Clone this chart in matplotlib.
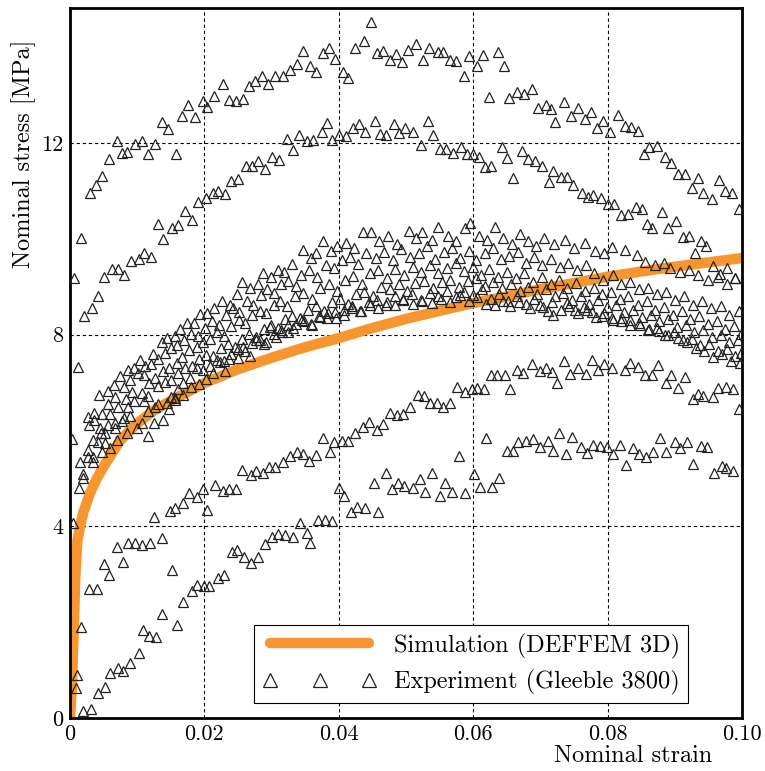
import matplotlib
matplotlib.use("Agg")
import matplotlib.pyplot as plt

plt.rcParams['font.family'] = 'serif'
plt.rcParams['font.serif'] = ['cmr10']
plt.rcParams['mathtext.fontset'] = 'cm'
plt.rcParams['axes.formatter.use_mathtext'] = True

# simulation curve (DEFFEM 3D)
sim_strain = [0.0, 0.0003, 0.0005, 0.0008, 0.0011, 0.0015, 0.002, 0.003, 0.004, 0.005, 0.0075,
              0.010, 0.0125, 0.015, 0.020, 0.025, 0.030, 0.035, 0.040, 0.045, 0.050,
              0.055, 0.060, 0.065, 0.070, 0.075, 0.080, 0.085, 0.090, 0.095, 0.100]
sim_stress = [0.0, 0.7, 1.6, 3.0, 3.7, 4.0, 4.3, 4.7, 5.0, 5.25, 5.8,
              6.15, 6.42, 6.62, 6.99, 7.28, 7.52, 7.74, 7.93, 8.14, 8.33,
              8.50, 8.66, 8.80, 8.95, 9.08, 9.21, 9.32, 9.42, 9.51, 9.60]

# experiment (Gleeble 3800), one list of (strain, stress) per test
exp_a = [(0.0006, 9.19), (0.0016, 10.02), (0.0030, 10.96), (0.0039, 11.13), (0.0048, 11.32), (0.0058, 11.67),
         (0.0070, 12.05), (0.0077, 11.80), (0.0085, 11.82), (0.0097, 11.98), (0.0107, 12.05), (0.0116, 11.77),
         (0.0126, 11.98), (0.0137, 12.44), (0.0146, 12.30), (0.0158, 11.77), (0.0167, 12.57), (0.0176, 12.80),
         (0.0186, 12.55), (0.0198, 12.88), (0.0204, 12.76), (0.0214, 12.99), (0.0228, 13.24), (0.0237, 12.90),
         (0.0247, 12.88), (0.0257, 12.92), (0.0266, 13.19), (0.0275, 13.30), (0.0286, 13.40), (0.0295, 13.24),
         (0.0305, 13.40), (0.0317, 13.40), (0.0327, 13.53), (0.0338, 13.65), (0.0347, 13.92), (0.0357, 13.61),
         (0.0366, 13.49), (0.0377, 13.88), (0.0385, 13.99), (0.0394, 13.76), (0.0406, 13.49), (0.0414, 13.36),
         (0.0424, 13.99), (0.0438, 14.13), (0.0448, 14.53), (0.0457, 13.88), (0.0466, 13.92), (0.0476, 13.74),
         (0.0485, 13.86), (0.0494, 13.70), (0.0503, 13.95), (0.0515, 14.07), (0.0525, 13.74), (0.0534, 13.99),
         (0.0548, 13.90), (0.0555, 13.90), (0.0565, 13.74), (0.0574, 13.72), (0.0586, 13.40), (0.0594, 13.82),
         (0.0606, 13.61), (0.0615, 13.84), (0.0624, 12.97), (0.0637, 13.90), (0.0646, 13.61), (0.0653, 12.94),
         (0.0665, 13.07), (0.0676, 13.03), (0.0687, 13.13), (0.0697, 12.73), (0.0708, 12.80), (0.0716, 12.71),
         (0.0722, 12.44), (0.0735, 12.86), (0.0746, 12.57), (0.0756, 12.73), (0.0766, 12.50), (0.0775, 12.65),
         (0.0784, 12.32), (0.0793, 12.46), (0.0804, 12.23), (0.0816, 12.59), (0.0826, 12.36), (0.0835, 12.34),
         (0.0845, 12.25), (0.0854, 11.77), (0.0862, 11.92), (0.0874, 11.94), (0.0885, 11.71), (0.0894, 11.59),
         (0.0905, 11.36), (0.0915, 11.36), (0.0925, 11.07), (0.0935, 11.27), (0.0942, 10.96), (0.0955, 10.83),
         (0.0966, 11.23), (0.0975, 11.00), (0.0985, 10.96), (0.0996, 10.63)]

exp_b = [(0.0012, 7.33), (0.0021, 8.39), (0.0033, 8.56), (0.0042, 8.81), (0.0051, 9.21), (0.0063, 9.37),
         (0.0071, 9.37), (0.0080, 9.25), (0.0091, 9.54), (0.0103, 9.58), (0.0110, 9.71), (0.0120, 9.62),
         (0.0131, 10.31), (0.0138, 10.00), (0.0152, 10.23), (0.0161, 10.29), (0.0171, 10.58), (0.0182, 10.40),
         (0.0191, 10.77), (0.0202, 10.86), (0.0213, 10.96), (0.0220, 11.00), (0.0231, 10.94), (0.0240, 11.21),
         (0.0250, 11.25), (0.0262, 11.52), (0.0271, 11.52), (0.0280, 11.63), (0.0290, 11.46), (0.0300, 11.71),
         (0.0311, 11.65), (0.0323, 12.09), (0.0332, 11.86), (0.0341, 12.17), (0.0353, 12.05), (0.0362, 12.07),
         (0.0375, 12.23), (0.0382, 12.42), (0.0390, 12.07), (0.0400, 12.17), (0.0411, 12.15), (0.0421, 12.32),
         (0.0430, 12.40), (0.0439, 12.23), (0.0454, 12.46), (0.0461, 12.19), (0.0470, 12.17), (0.0482, 12.40),
         (0.0490, 12.21), (0.0498, 12.32), (0.0510, 12.23), (0.0522, 11.96), (0.0532, 12.46), (0.0540, 12.17),
         (0.0551, 11.88), (0.0560, 11.88), (0.0570, 11.80), (0.0582, 11.92), (0.0590, 11.77), (0.0599, 11.77),
         (0.0609, 11.71), (0.0618, 11.50), (0.0626, 11.52), (0.0643, 11.92), (0.0650, 11.69), (0.0659, 11.27),
         (0.0673, 11.84), (0.0682, 11.67), (0.0692, 11.63), (0.0702, 11.52), (0.0713, 11.19), (0.0719, 11.42),
         (0.0731, 11.29), (0.0740, 11.29), (0.0749, 11.13), (0.0762, 10.96), (0.0771, 10.88), (0.0778, 10.92),
         (0.0790, 10.86), (0.0801, 10.73), (0.0810, 10.73), (0.0820, 10.50), (0.0830, 10.52), (0.0842, 10.67),
         (0.0851, 10.63), (0.0859, 10.31), (0.0866, 10.23), (0.0881, 10.56), (0.0890, 10.23), (0.0902, 10.38),
         (0.0912, 10.04), (0.0921, 10.06), (0.0930, 9.71), (0.0939, 9.96), (0.0946, 9.85), (0.0957, 9.44),
         (0.0967, 9.27), (0.0977, 9.39), (0.0990, 9.19)]

exp_c1 = [(0.0027, 6.28), (0.0036, 6.37), (0.0043, 6.74), (0.0056, 6.83), (0.0066, 6.95), (0.0074, 7.14),
          (0.0086, 7.26), (0.0095, 7.31), (0.0104, 7.47), (0.0112, 7.35), (0.0124, 7.60), (0.0137, 7.85),
          (0.0144, 7.93), (0.0156, 7.97), (0.0164, 8.12), (0.0174, 8.25), (0.0184, 8.25), (0.0193, 8.43),
          (0.0204, 8.46), (0.0214, 8.55), (0.0226, 8.70), (0.0238, 8.62), (0.0248, 8.85), (0.0256, 9.10),
          (0.0268, 8.98), (0.0279, 9.05), (0.0287, 9.29), (0.0299, 9.20), (0.0309, 9.35), (0.0318, 9.30),
          (0.0330, 9.48), (0.0347, 9.77), (0.0358, 9.60), (0.0366, 9.70), (0.0377, 9.96), (0.0389, 9.75),
          (0.0398, 9.85), (0.0410, 9.92), (0.0423, 9.80), (0.0436, 10.15), (0.0448, 10.15), (0.0460, 9.95),
          (0.0473, 10.05), (0.0487, 9.90), (0.0504, 10.17), (0.0515, 10.02), (0.0524, 10.15), (0.0538, 9.98),
          (0.0548, 10.25), (0.0562, 10.05), (0.0575, 9.95), (0.0588, 10.23), (0.0595, 10.33), (0.0608, 10.05),
          (0.0620, 9.98), (0.0632, 10.25), (0.0645, 10.02), (0.0657, 9.90), (0.0669, 10.10), (0.0682, 9.95),
          (0.0694, 9.85), (0.0706, 10.02), (0.0720, 9.90), (0.0737, 9.98), (0.0750, 9.80), (0.0766, 9.91),
          (0.0781, 9.75), (0.0795, 9.70), (0.0806, 9.83), (0.0826, 9.77), (0.0844, 9.67), (0.0856, 9.52),
          (0.0870, 9.45), (0.0884, 9.50), (0.0893, 9.39), (0.0907, 9.30), (0.0921, 9.35), (0.0935, 9.25),
          (0.0950, 9.14), (0.0964, 9.20), (0.0978, 9.05), (0.0990, 9.19)]

exp_c2 = [(0.0028, 6.12), (0.0036, 6.22), (0.0047, 6.35), (0.0057, 6.55), (0.0067, 6.70), (0.0080, 6.90),
          (0.0090, 7.05), (0.0101, 7.20), (0.0110, 7.15), (0.0120, 7.38), (0.0131, 7.50), (0.0141, 7.62),
          (0.0150, 7.72), (0.0159, 7.79), (0.0170, 7.90), (0.0180, 8.02), (0.0190, 7.98), (0.0201, 8.15),
          (0.0211, 8.28), (0.0222, 8.20), (0.0232, 8.42), (0.0243, 8.55), (0.0252, 8.48), (0.0263, 8.70),
          (0.0273, 8.62), (0.0284, 8.82), (0.0293, 8.95), (0.0304, 8.88), (0.0314, 9.05), (0.0325, 9.12),
          (0.0336, 9.02), (0.0344, 9.25), (0.0355, 9.35), (0.0368, 9.20), (0.0381, 9.45), (0.0393, 9.40),
          (0.0405, 9.55), (0.0417, 9.62), (0.0429, 9.48), (0.0441, 9.70), (0.0455, 9.60), (0.0467, 9.72),
          (0.0480, 9.55), (0.0492, 9.78), (0.0506, 9.62), (0.0519, 9.70), (0.0531, 9.85), (0.0543, 9.58),
          (0.0556, 9.72), (0.0569, 9.80), (0.0581, 9.60), (0.0593, 9.75), (0.0604, 9.55), (0.0617, 9.70),
          (0.0629, 9.82), (0.0641, 9.58), (0.0653, 9.65), (0.0666, 9.72), (0.0678, 9.50), (0.0690, 9.62),
          (0.0703, 9.45), (0.0716, 9.58), (0.0729, 9.42), (0.0741, 9.50), (0.0754, 9.35), (0.0768, 9.45),
          (0.0780, 9.28), (0.0793, 9.15), (0.0808, 9.25), (0.0820, 9.05), (0.0833, 9.10), (0.0847, 8.95),
          (0.0860, 8.98), (0.0873, 8.85), (0.0887, 8.90), (0.0900, 8.72), (0.0913, 8.80), (0.0927, 8.62),
          (0.0940, 8.70), (0.0954, 8.55), (0.0968, 8.60), (0.0981, 8.42), (0.0995, 8.50)]

exp_c3 = [(0.0015, 5.34), (0.0027, 5.60), (0.0034, 5.80), (0.0045, 6.05), (0.0052, 5.95), (0.0060, 6.35),
          (0.0072, 6.50), (0.0083, 6.65), (0.0092, 6.80), (0.0107, 6.78), (0.0117, 7.00), (0.0127, 7.10),
          (0.0138, 7.25), (0.0147, 7.31), (0.0159, 7.41), (0.0167, 7.54), (0.0177, 7.68), (0.0189, 7.75),
          (0.0198, 7.85), (0.0208, 7.92), (0.0219, 8.05), (0.0229, 7.98), (0.0240, 8.18), (0.0251, 8.30),
          (0.0261, 8.25), (0.0271, 8.42), (0.0282, 8.50), (0.0292, 8.45), (0.0303, 8.62), (0.0313, 8.70),
          (0.0323, 8.60), (0.0335, 8.80), (0.0347, 8.88), (0.0360, 8.75), (0.0372, 8.98), (0.0385, 9.05),
          (0.0397, 8.92), (0.0409, 9.15), (0.0421, 9.22), (0.0434, 9.05), (0.0446, 9.28), (0.0459, 9.35),
          (0.0471, 9.18), (0.0484, 9.38), (0.0497, 9.25), (0.0510, 9.42), (0.0522, 9.30), (0.0535, 9.45),
          (0.0548, 9.28), (0.0561, 9.40), (0.0574, 9.50), (0.0586, 9.32), (0.0599, 9.42), (0.0611, 9.25),
          (0.0624, 9.38), (0.0637, 9.20), (0.0650, 9.30), (0.0663, 9.18), (0.0676, 9.28), (0.0689, 9.10),
          (0.0702, 9.20), (0.0715, 9.05), (0.0727, 9.15), (0.0740, 8.98), (0.0753, 9.08), (0.0766, 8.92),
          (0.0779, 8.98), (0.0792, 8.85), (0.0805, 8.90), (0.0818, 8.75), (0.0831, 8.80), (0.0845, 8.62),
          (0.0858, 8.70), (0.0871, 8.52), (0.0884, 8.58), (0.0897, 8.42), (0.0910, 8.50), (0.0923, 8.32),
          (0.0936, 8.40), (0.0949, 8.22), (0.0962, 8.28), (0.0975, 8.12), (0.0988, 8.18), (0.0998, 8.02)]

exp_c4 = [(0.0013, 4.80), (0.0027, 5.45), (0.0042, 5.76), (0.0057, 6.12), (0.0067, 6.16), (0.0080, 6.26),
          (0.0086, 6.49), (0.0095, 6.62), (0.0110, 6.62), (0.0116, 6.72), (0.0131, 6.93), (0.0141, 7.01),
          (0.0150, 7.06), (0.0160, 7.20), (0.0171, 7.30), (0.0182, 7.35), (0.0192, 7.50), (0.0203, 7.58),
          (0.0213, 7.55), (0.0224, 7.72), (0.0235, 7.80), (0.0245, 7.75), (0.0256, 7.92), (0.0266, 8.02),
          (0.0277, 7.95), (0.0288, 8.12), (0.0299, 8.20), (0.0309, 8.15), (0.0320, 8.32), (0.0331, 8.40),
          (0.0342, 8.35), (0.0354, 8.52), (0.0366, 8.60), (0.0378, 8.50), (0.0390, 8.68), (0.0402, 8.75),
          (0.0414, 8.65), (0.0426, 8.85), (0.0438, 8.90), (0.0451, 8.80), (0.0463, 9.00), (0.0476, 8.95),
          (0.0489, 9.05), (0.0501, 8.92), (0.0514, 9.08), (0.0527, 9.12), (0.0540, 8.98), (0.0553, 9.10),
          (0.0566, 9.15), (0.0579, 9.00), (0.0592, 9.12), (0.0604, 9.18), (0.0617, 9.02), (0.0630, 9.10),
          (0.0643, 8.98), (0.0656, 9.05), (0.0669, 8.92), (0.0682, 9.00), (0.0695, 8.85), (0.0708, 8.95),
          (0.0721, 8.80), (0.0734, 8.88), (0.0747, 8.72), (0.0760, 8.80), (0.0773, 8.65), (0.0786, 8.72),
          (0.0799, 8.58), (0.0812, 8.62), (0.0825, 8.48), (0.0838, 8.52), (0.0851, 8.38), (0.0864, 8.42),
          (0.0877, 8.28), (0.0890, 8.32), (0.0903, 8.17), (0.0916, 8.20), (0.0929, 8.05), (0.0942, 8.10),
          (0.0955, 7.95), (0.0968, 8.00), (0.0981, 7.85), (0.0994, 7.90)]

exp_c5 = [(0.0019, 5.01), (0.0034, 5.35), (0.0046, 5.95), (0.0052, 5.75), (0.0067, 6.05), (0.0077, 6.20),
          (0.0089, 6.30), (0.0107, 6.16), (0.0116, 6.40), (0.0126, 6.49), (0.0131, 6.56), (0.0144, 6.58),
          (0.0150, 6.70), (0.0156, 6.68), (0.0161, 6.87), (0.0168, 6.99), (0.0179, 7.10), (0.0189, 7.31),
          (0.0198, 7.26), (0.0208, 7.35), (0.0219, 7.48), (0.0229, 7.45), (0.0240, 7.60), (0.0250, 7.70),
          (0.0260, 7.65), (0.0271, 7.82), (0.0282, 7.90), (0.0292, 7.85), (0.0303, 8.02), (0.0314, 8.10),
          (0.0325, 8.05), (0.0336, 8.22), (0.0348, 8.28), (0.0360, 8.20), (0.0372, 8.38), (0.0384, 8.45),
          (0.0396, 8.35), (0.0408, 8.52), (0.0420, 8.60), (0.0432, 8.50), (0.0445, 8.68), (0.0457, 8.72),
          (0.0470, 8.62), (0.0483, 8.80), (0.0496, 8.75), (0.0509, 8.85), (0.0522, 8.72), (0.0535, 8.88),
          (0.0548, 8.80), (0.0561, 8.92), (0.0574, 8.78), (0.0587, 8.90), (0.0600, 8.82), (0.0613, 8.95),
          (0.0626, 8.75), (0.0639, 8.85), (0.0652, 8.70), (0.0665, 8.80), (0.0678, 8.65), (0.0691, 8.75),
          (0.0704, 8.58), (0.0717, 8.68), (0.0730, 8.52), (0.0743, 8.60), (0.0756, 8.45), (0.0769, 8.52),
          (0.0782, 8.38), (0.0795, 8.45), (0.0808, 8.30), (0.0821, 8.35), (0.0834, 8.20), (0.0847, 8.25),
          (0.0860, 8.10), (0.0873, 8.15), (0.0886, 8.00), (0.0899, 8.05), (0.0912, 7.90), (0.0925, 7.92),
          (0.0938, 7.78), (0.0951, 7.80), (0.0964, 7.65), (0.0977, 7.70), (0.0990, 7.55), (0.0998, 7.62)]

exp_c6 = [(0.0003, 5.82), (0.0020, 5.10), (0.0034, 5.45), (0.0048, 5.55), (0.0060, 5.64), (0.0070, 5.80),
          (0.0085, 5.95), (0.0100, 6.05), (0.0116, 5.89), (0.0125, 6.15), (0.0138, 6.22), (0.0148, 6.45),
          (0.0156, 6.64), (0.0168, 6.75), (0.0180, 6.90), (0.0192, 6.98), (0.0203, 7.08), (0.0213, 7.20),
          (0.0223, 7.43), (0.0230, 7.25), (0.0237, 7.50), (0.0250, 7.52), (0.0258, 7.75), (0.0268, 7.55),
          (0.0277, 7.89), (0.0288, 7.80), (0.0297, 8.16), (0.0306, 7.95), (0.0315, 8.06), (0.0324, 8.20),
          (0.0332, 8.14), (0.0345, 8.30), (0.0358, 8.22), (0.0370, 8.40), (0.0382, 8.35), (0.0395, 8.48),
          (0.0408, 8.42), (0.0420, 8.55), (0.0433, 8.50), (0.0446, 8.62), (0.0458, 8.56), (0.0471, 8.68),
          (0.0484, 8.62), (0.0496, 8.73), (0.0510, 8.65), (0.0524, 8.70), (0.0538, 8.66), (0.0552, 8.75),
          (0.0566, 8.68), (0.0580, 8.83), (0.0593, 8.70), (0.0606, 8.78), (0.0619, 8.65), (0.0632, 8.62),
          (0.0645, 8.70), (0.0655, 8.60), (0.0668, 8.68), (0.0684, 8.55), (0.0699, 8.62), (0.0712, 8.50),
          (0.0719, 8.41), (0.0740, 8.66), (0.0752, 8.52), (0.0765, 8.58), (0.0777, 8.48), (0.0792, 8.40),
          (0.0807, 8.35), (0.0820, 8.28), (0.0834, 8.30), (0.0848, 8.20), (0.0862, 8.12), (0.0876, 8.08),
          (0.0890, 8.00), (0.0905, 7.93), (0.0918, 7.85), (0.0931, 7.72), (0.0944, 7.65), (0.0957, 7.54),
          (0.0970, 7.60), (0.0984, 7.45), (0.0997, 7.41)]

exp_f = [(0.0004, 4.07), (0.0010, 0.90), (0.0016, 1.90), (0.0029, 2.69), (0.0040, 2.69), (0.0051, 3.21),
         (0.0058, 2.99), (0.0070, 3.57), (0.0079, 3.26), (0.0086, 3.65), (0.0097, 3.65), (0.0107, 3.61),
         (0.0119, 3.65), (0.0125, 4.20), (0.0137, 3.76), (0.0149, 4.32), (0.0152, 3.09), (0.0156, 4.38),
         (0.0168, 4.49), (0.0177, 4.70), (0.0189, 4.61), (0.0198, 4.78), (0.0204, 4.34), (0.0216, 4.86),
         (0.0228, 4.74), (0.0237, 4.78), (0.0247, 4.78), (0.0256, 5.18), (0.0269, 5.07), (0.0277, 5.16),
         (0.0287, 5.11), (0.0296, 5.24), (0.0305, 5.24), (0.0317, 5.34), (0.0327, 5.47), (0.0338, 5.55),
         (0.0347, 5.51), (0.0356, 5.37), (0.0366, 5.49), (0.0377, 5.85), (0.0387, 5.55), (0.0393, 5.76),
         (0.0405, 5.78), (0.0414, 5.78), (0.0424, 5.95), (0.0436, 6.08), (0.0445, 6.18), (0.0457, 6.01),
         (0.0466, 6.14), (0.0476, 6.37), (0.0487, 6.33), (0.0496, 6.35), (0.0506, 6.49), (0.0518, 6.74),
         (0.0527, 6.72), (0.0536, 6.58), (0.0546, 6.58), (0.0555, 6.49), (0.0565, 6.58), (0.0576, 6.91),
         (0.0588, 6.81), (0.0598, 6.87), (0.0606, 6.89), (0.0616, 6.87), (0.0626, 7.16), (0.0635, 7.16),
         (0.0647, 7.16), (0.0655, 6.87), (0.0665, 7.26), (0.0674, 7.20), (0.0688, 7.39), (0.0699, 7.24),
         (0.0708, 7.31), (0.0717, 7.22), (0.0725, 6.99), (0.0735, 7.45), (0.0744, 7.18), (0.0756, 7.31),
         (0.0768, 7.18), (0.0777, 7.47), (0.0786, 7.26), (0.0795, 7.39), (0.0807, 7.31), (0.0826, 7.26),
         (0.0833, 7.41), (0.0845, 7.33), (0.0856, 7.16), (0.0866, 7.16), (0.0875, 7.37), (0.0887, 6.99),
         (0.0894, 7.16), (0.0905, 6.89), (0.0915, 7.12), (0.0927, 6.66), (0.0935, 6.76), (0.0942, 6.72),
         (0.0957, 6.70), (0.0964, 6.89), (0.0976, 6.91), (0.0987, 6.87), (0.0996, 6.45)]

exp_g = [(0.0009, 0.62), (0.0019, 0.15), (0.0031, 0.19), (0.0042, 0.52), (0.0052, 0.65), (0.0060, 0.94),
         (0.0071, 1.04), (0.0079, 0.98), (0.0089, 1.15), (0.0103, 1.36), (0.0109, 1.84), (0.0118, 1.71),
         (0.0128, 1.69), (0.0137, 2.17), (0.0159, 1.94), (0.0168, 2.42), (0.0182, 2.65), (0.0189, 2.78),
         (0.0199, 2.76), (0.0207, 2.76), (0.0220, 2.92), (0.0229, 2.99), (0.0241, 3.47), (0.0249, 3.51),
         (0.0259, 3.36), (0.0269, 3.24), (0.0280, 3.36), (0.0290, 3.63), (0.0300, 3.78), (0.0310, 3.84),
         (0.0320, 3.82), (0.0332, 3.78), (0.0342, 4.07), (0.0353, 3.86), (0.0357, 3.65), (0.0369, 4.13),
         (0.0379, 4.13), (0.0390, 4.11), (0.0400, 4.80), (0.0408, 4.63), (0.0418, 4.30), (0.0427, 4.41),
         (0.0439, 4.38), (0.0452, 4.91), (0.0458, 4.30), (0.0470, 5.11), (0.0479, 4.78), (0.0488, 4.91),
         (0.0497, 4.84), (0.0510, 4.80), (0.0521, 4.99), (0.0528, 4.72), (0.0539, 5.11), (0.0551, 4.63),
         (0.0558, 4.91), (0.0568, 4.72), (0.0579, 5.47), (0.0588, 4.70), (0.0601, 5.09), (0.0610, 4.82),
         (0.0619, 5.85), (0.0628, 4.82), (0.0638, 5.01), (0.0650, 5.57), (0.0659, 5.57), (0.0667, 5.76),
         (0.0679, 5.78), (0.0689, 5.82), (0.0699, 5.66), (0.0711, 5.78), (0.0719, 5.57), (0.0728, 5.95),
         (0.0738, 5.51), (0.0747, 5.87), (0.0760, 5.66), (0.0769, 5.53), (0.0778, 5.70), (0.0789, 5.68),
         (0.0799, 5.66), (0.0808, 5.51), (0.0818, 5.70), (0.0827, 5.28), (0.0838, 5.64), (0.0847, 5.51),
         (0.0857, 5.45), (0.0868, 5.55), (0.0878, 5.85), (0.0887, 5.55), (0.0900, 5.76), (0.0908, 5.64),
         (0.0918, 5.76), (0.0927, 5.30), (0.0939, 5.68), (0.0948, 5.66), (0.0958, 5.11), (0.0970, 5.26),
         (0.0976, 5.22), (0.0987, 5.16)]

experiments = [exp_a, exp_b, exp_c1, exp_c2, exp_c3, exp_c4, exp_c5, exp_c6, exp_f, exp_g]

x_ticks = [0.0, 0.02, 0.04, 0.06, 0.08, 0.10]
x_tick_labels = ['0', '0.02', '0.04', '0.06', '0.08', '0.10']
y_ticks = [0, 4, 8, 12]
y_tick_labels = ['0', '4', '8', '12']

fig = plt.figure(figsize=(7.65, 7.71), dpi=100)
ax = fig.add_axes([0.0915, 0.0687, 0.8785, 0.921])

ax.plot(sim_strain, sim_stress, color='#F7962F', linewidth=7.5, solid_capstyle='round',
        zorder=2, label='Simulation (DEFFEM 3D)')

for i, test in enumerate(experiments):
    strain = [p[0] for p in test]
    stress = [p[1] for p in test]
    ax.plot(strain, stress, linestyle='none', marker='^', markersize=7.5, markerfacecolor='none',
            markeredgecolor='#222222', markeredgewidth=0.9, zorder=3,
            label='Experiment (Gleeble 3800)' if i == 0 else None)

ax.set_xlim(0, 0.10)
ax.set_ylim(0, 14.82)
ax.set_xticks(x_ticks)
ax.set_xticklabels(x_tick_labels)
ax.set_yticks(y_ticks)
ax.set_yticklabels(y_tick_labels)
ax.tick_params(axis='both', length=0, labelsize=16, pad=5)

ax.grid(True, color='black', linestyle=(0, (3, 2.5)), linewidth=0.8)
ax.set_axisbelow(True)
for spine in ax.spines.values():
    spine.set_linewidth(2)

ax.set_xlabel('Nominal strain', fontsize=17.5, loc='right')
ax.xaxis.set_label_coords(0.955, -0.038)
ax.set_ylabel('Nominal stress [MPa]', fontsize=17.5, loc='top')
ax.yaxis.set_label_coords(-0.05, 0.955)

leg = ax.legend(loc='lower right', bbox_to_anchor=(0.92, 0.021), borderaxespad=0, fontsize=17.5,
                numpoints=3, markerscale=1.4, handlelength=4.7, handletextpad=0.7, fancybox=False,
                framealpha=1, edgecolor='black', borderpad=0.35, labelspacing=0.45)
leg.get_frame().set_linewidth(0.8)

plt.savefig('out.png', dpi=100)
